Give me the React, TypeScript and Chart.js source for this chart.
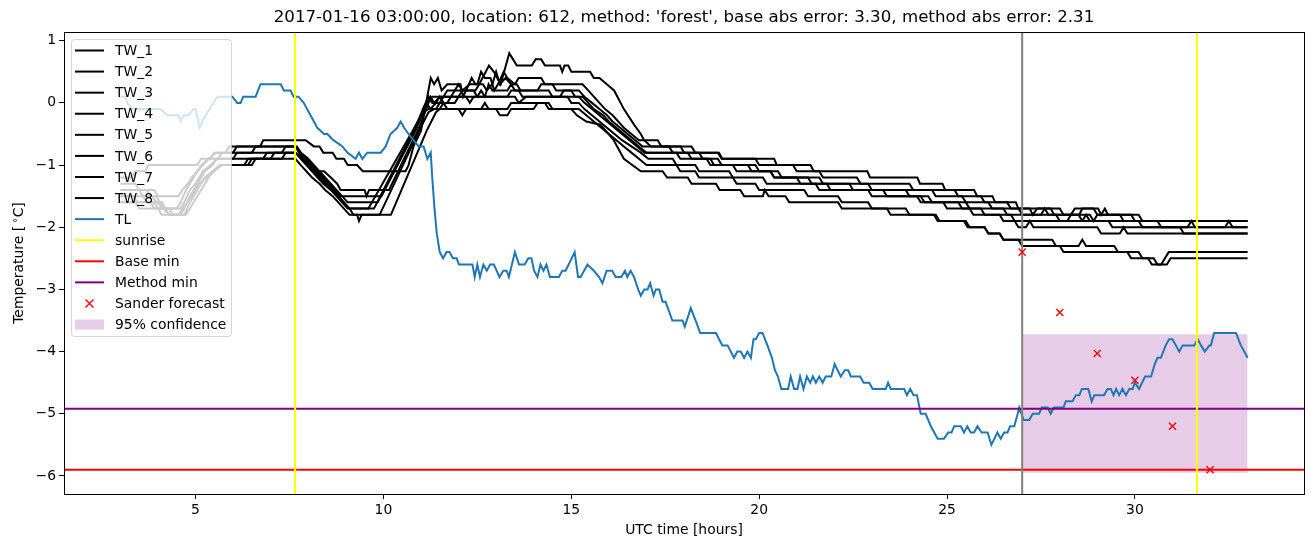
import React, { useEffect, useRef } from "react";
import { Chart, registerables } from "chart.js";

Chart.register(...registerables);

// ---------------- data ----------------
const X_MIN = 1.5;
const X_MAX = 34.5;
const Y_MIN = -6.29;
const Y_MAX = 1.14;
const xTicks = [5, 10, 15, 20, 25, 30];
const yTicks = [-6, -5, -4, -3, -2, -1, 0, 1];

const titleText =
  "2017-01-16 03:00:00, location: 612, method: 'forest', base abs error: 3.30, method abs error: 2.31";
const xLabel = "UTC time [hours]";
const legendLabels = [
  "TW_1", "TW_2", "TW_3", "TW_4", "TW_5", "TW_6", "TW_7", "TW_8",
  "TL", "sunrise", "Base min", "Method min", "Sander forecast", "95% confidence",
];

const sunriseHours = [7.65, 31.65];
const forecastStartHour = 27;
const baseMin = -5.9;
const methodMin = -4.92;
const confHours = [27, 33];
const confUpper = -3.72;
const confLower = -5.95;
const sanderHours = [27, 28, 29, 30, 31, 32];
const sanderValues = [-2.4, -3.37, -4.03, -4.46, -5.2, -5.9];

const tlHours = [
  3.0, 3.14, 3.18, 3.31, 4.07, 4.25, 4.55, 4.6, 4.69, 4.81, 4.95, 5.0, 5.11, 5.18, 5.27, 5.58, 5.98, 6.11, 6.2, 6.27,
  6.6, 6.73, 7.27, 7.35, 7.53, 7.61, 7.74, 7.88, 7.97, 8.06, 8.24, 8.42, 8.51, 8.67, 8.91, 9.04, 9.26, 9.35, 9.44, 9.57,
  9.93, 10.06, 10.19, 10.37, 10.46, 10.55, 10.67, 10.8, 10.94, 11.07, 11.17, 11.26, 11.3, 11.36, 11.42, 11.5, 11.59, 11.68, 11.76, 11.85,
  11.95, 12.01, 12.37, 12.43, 12.5, 12.57, 12.66, 12.75, 12.84, 12.94, 13.09, 13.19, 13.28, 13.34, 13.5, 13.61, 13.76, 13.86, 13.94, 14.01,
  14.1, 14.18, 14.26, 14.34, 14.43, 14.67, 14.76, 14.85, 15.09, 15.18, 15.25, 15.43, 15.6, 15.74, 15.83, 15.94, 16.09, 16.18, 16.33, 16.43,
  16.49, 16.58, 16.67, 16.78, 16.85, 16.94, 17.03, 17.1, 17.19, 17.25, 17.34, 17.43, 17.51, 17.69, 17.96, 18.02, 18.18, 18.31, 18.43, 18.85,
  19.02, 19.16, 19.33, 19.42, 19.51, 19.6, 19.69, 19.78, 19.85, 19.91, 20.0, 20.09, 20.22, 20.34, 20.42, 20.5, 20.59, 20.77, 20.84, 20.93,
  21.02, 21.09, 21.18, 21.27, 21.36, 21.43, 21.51, 21.6, 21.69, 21.77, 21.92, 22.01, 22.17, 22.28, 22.37, 22.44, 22.69, 22.78, 22.93, 23.02,
  23.37, 23.43, 23.5, 23.86, 23.93, 24.02, 24.11, 24.2, 24.3, 24.43, 24.57, 24.75, 24.92, 25.03, 25.12, 25.19, 25.37, 25.45, 25.54, 25.63,
  25.72, 25.81, 25.92, 26.08, 26.18, 26.34, 26.43, 26.52, 26.61, 26.68, 26.79, 26.88, 26.92, 27.04, 27.19, 27.28, 27.45, 27.52, 27.68, 27.76,
  27.84, 28.1, 28.16, 28.34, 28.43, 28.52, 28.59, 28.76, 28.85, 28.92, 29.18, 29.27, 29.36, 29.43, 29.5, 29.58, 29.67, 29.76, 29.85, 29.94,
  30.0, 30.11, 30.27, 30.43, 30.53, 30.6, 30.69, 30.82, 30.91, 31.0, 31.09, 31.18, 31.27, 31.58, 31.67, 31.76, 31.86, 31.98, 32.02, 32.11,
  32.69, 32.82, 33.0,
];
const tlValues = [
  0.1, 0.1, 0.0, -0.1, -0.1, -0.2, -0.2, -0.3, -0.2, -0.2, -0.1, -0.1, -0.4, -0.3, -0.2, 0.1, 0.1, 0.0, 0.0, 0.1,
  0.1, 0.3, 0.3, 0.2, 0.2, 0.1, 0.1, 0.0, -0.1, -0.2, -0.4, -0.5, -0.5, -0.6, -0.7, -0.8, -0.9, -0.8, -0.9, -0.8,
  -0.8, -0.7, -0.5, -0.4, -0.3, -0.4, -0.5, -0.6, -0.7, -0.7, -0.9, -0.8, -1.2, -1.7, -2.1, -2.4, -2.5, -2.4, -2.4, -2.5,
  -2.5, -2.6, -2.6, -2.8, -2.6, -2.8, -2.6, -2.7, -2.6, -2.6, -2.8, -2.7, -2.7, -2.8, -2.4, -2.6, -2.6, -2.5, -2.5, -2.7,
  -2.8, -2.6, -2.7, -2.6, -2.8, -2.8, -2.7, -2.7, -2.4, -2.8, -2.8, -2.6, -2.7, -2.8, -2.9, -2.7, -2.7, -2.8, -2.8, -2.7,
  -2.8, -2.7, -2.8, -3.0, -3.1, -3.0, -3.0, -2.9, -3.1, -3.0, -3.0, -3.2, -3.2, -3.5, -3.5, -3.6, -3.3, -3.5, -3.7, -3.7,
  -3.9, -3.9, -4.1, -4.0, -4.0, -4.1, -4.0, -4.1, -3.8, -3.8, -3.7, -3.7, -3.9, -4.1, -4.3, -4.4, -4.6, -4.6, -4.4, -4.6,
  -4.6, -4.4, -4.6, -4.4, -4.5, -4.4, -4.5, -4.4, -4.5, -4.4, -4.4, -4.2, -4.4, -4.3, -4.3, -4.4, -4.4, -4.5, -4.5, -4.6,
  -4.6, -4.5, -4.6, -4.6, -4.7, -4.6, -4.7, -4.7, -5.0, -5.0, -5.2, -5.4, -5.4, -5.3, -5.3, -5.2, -5.2, -5.3, -5.2, -5.3,
  -5.3, -5.2, -5.3, -5.3, -5.5, -5.3, -5.4, -5.3, -5.3, -5.2, -5.2, -5.0, -4.9, -5.1, -5.1, -5.0, -5.0, -4.9, -4.9, -5.0,
  -4.9, -4.9, -4.8, -4.8, -4.7, -4.7, -4.6, -4.6, -4.8, -4.7, -4.7, -4.6, -4.6, -4.7, -4.6, -4.7, -4.6, -4.7, -4.6, -4.6,
  -4.5, -4.6, -4.4, -4.4, -4.2, -4.1, -4.1, -3.9, -3.8, -3.8, -3.9, -4.0, -3.9, -3.9, -3.8, -3.9, -4.0, -3.9, -3.9, -3.7,
  -3.7, -3.9, -4.1,
];

// TW series: [hour, value] vertices
const TW1 = [
  [3.0, -1.2], [3.3, -1.2], [3.4, -1.1], [3.65, -1.1], [3.75, -1.0], [5.04, -1.0], [5.15, -0.9], [5.4, -0.9], [5.5, -0.8], [5.8, -0.8],
  [5.9, -0.7], [6.72, -0.7], [6.8, -0.6], [7.93, -0.6], [8.15, -0.7], [8.3, -0.7], [8.4, -0.8], [8.65, -0.8], [8.75, -0.9], [8.95, -0.9],
  [9.05, -1.0], [9.3, -1.0], [9.45, -1.1], [10.59, -1.1], [10.67, -1.0], [10.8, -0.7], [11.0, -0.45], [11.26, 0.4], [11.35, 0.3], [11.45, 0.4],
  [11.55, 0.2], [11.7, 0.3], [12.05, 0.3], [12.12, 0.1], [12.2, 0.2], [12.45, 0.2], [12.55, 0.3], [12.81, 0.6], [12.94, 0.5], [13.12, 0.3],
  [13.35, 0.8], [13.45, 0.7], [13.55, 0.6], [13.95, 0.6], [14.05, 0.7], [14.2, 0.7], [14.3, 0.6], [14.7, 0.6], [14.76, 0.5], [14.82, 0.6],
  [14.92, 0.6], [15.0, 0.5], [15.5, 0.5], [15.6, 0.4], [15.75, 0.4], [16.14, 0.2], [16.4, -0.1], [16.67, -0.35], [16.85, -0.5], [16.94, -0.6],
  [17.12, -0.7], [17.91, -0.7], [18.0, -0.8], [18.93, -0.8], [19.02, -0.9], [20.4, -0.9], [20.47, -1.0], [21.37, -1.0], [21.45, -1.1], [22.88, -1.1],
  [22.95, -1.2], [24.21, -1.2], [24.28, -1.3], [24.88, -1.3], [24.95, -1.4], [25.72, -1.4], [25.8, -1.5], [26.21, -1.5], [26.28, -1.6], [26.83, -1.6],
  [26.9, -1.7], [27.76, -1.7], [27.85, -1.8], [28.52, -1.8], [28.6, -1.7], [29.02, -1.7], [29.1, -1.8], [29.2, -1.7], [29.28, -1.8], [30.1, -1.8],
  [30.2, -1.9], [33.0, -1.9],
];
const TW2 = [
  [3.0, -1.3], [3.4, -1.3], [3.5, -1.4], [3.9, -1.4], [4.0, -1.5], [4.55, -1.5], [4.65, -1.4], [4.8, -1.3], [4.9, -1.2], [5.05, -1.1],
  [5.2, -1.0], [5.35, -0.9], [5.55, -0.8], [6.0, -0.8], [6.1, -0.7], [7.7, -0.7], [7.8, -0.8], [7.97, -0.9], [8.15, -1.1], [8.42, -1.1],
  [8.6, -1.2], [8.77, -1.3], [8.86, -1.4], [9.5, -1.4], [9.55, -1.5], [9.62, -1.4], [10.15, -1.4], [10.95, -0.4], [11.2, 0.0], [11.3, 0.1],
  [11.6, 0.1], [11.7, 0.2], [11.9, 0.2], [12.0, 0.3], [12.1, 0.2], [12.3, 0.3], [12.5, 0.3], [12.6, 0.5], [12.7, 0.4], [12.85, 0.4],
  [12.95, 0.2], [13.05, 0.3], [13.2, 0.5], [13.3, 0.4], [13.5, 0.3], [13.6, 0.4], [14.2, 0.4], [14.3, 0.3], [15.3, 0.3], [15.45, 0.2],
  [15.6, 0.1], [15.75, 0.0], [15.9, -0.1], [16.1, -0.2], [16.25, -0.3], [16.4, -0.4], [16.6, -0.5], [16.8, -0.6], [17.3, -0.6], [17.4, -0.7],
  [18.2, -0.7], [18.3, -0.8], [18.9, -0.8], [19.0, -0.9], [19.9, -0.9], [20.0, -1.0], [20.9, -1.0], [21.0, -1.1], [21.6, -1.1], [21.7, -1.2],
  [22.6, -1.2], [22.7, -1.3], [24.0, -1.3], [24.1, -1.4], [25.2, -1.4], [25.3, -1.5], [25.9, -1.5], [26.0, -1.6], [26.6, -1.6], [26.7, -1.7],
  [27.2, -1.7], [27.28, -1.8], [27.4, -1.7], [28.0, -1.7], [28.1, -1.8], [28.3, -1.8], [28.4, -1.7], [28.9, -1.7], [29.0, -1.8], [29.9, -1.8],
  [30.0, -1.9], [33.0, -1.9],
];
const TW3 = [
  [3.0, -1.4], [3.5, -1.4], [3.6, -1.5], [3.85, -1.5], [3.95, -1.6], [4.1, -1.6], [4.2, -1.7], [4.5, -1.7], [4.6, -1.6], [4.75, -1.4],
  [4.95, -1.2], [5.15, -1.0], [5.35, -0.9], [5.6, -0.9], [5.7, -0.8], [6.5, -0.8], [6.6, -0.7], [7.66, -0.7], [7.75, -0.8], [7.95, -0.9],
  [8.1, -1.0], [8.25, -1.1], [8.4, -1.2], [8.55, -1.3], [8.7, -1.4], [8.85, -1.5], [9.95, -1.5], [10.85, -0.45], [11.1, -0.1], [11.25, 0.1],
  [11.35, 0.0], [11.5, 0.1], [11.8, 0.1], [11.9, 0.2], [12.2, 0.2], [12.35, 0.4], [12.45, 0.3], [12.65, 0.3], [12.75, 0.2], [12.9, 0.3],
  [13.0, 0.5], [13.1, 0.3], [13.25, 0.4], [13.4, 0.3], [13.55, 0.3], [13.65, 0.2], [14.1, 0.2], [14.2, 0.3], [14.5, 0.3], [14.6, 0.2],
  [15.2, 0.2], [15.35, 0.1], [15.55, 0.0], [15.75, -0.1], [15.95, -0.2], [16.1, -0.3], [16.3, -0.4], [16.5, -0.5], [16.7, -0.6], [16.9, -0.7],
  [17.6, -0.7], [17.7, -0.8], [18.4, -0.8], [18.5, -0.9], [18.9, -0.9], [19.0, -1.0], [19.7, -1.0], [19.8, -1.1], [20.3, -1.1], [20.4, -1.2],
  [21.6, -1.2], [21.7, -1.3], [22.9, -1.3], [23.0, -1.4], [24.6, -1.4], [24.7, -1.5], [25.4, -1.5], [25.5, -1.6], [26.1, -1.6], [26.2, -1.7],
  [26.9, -1.7], [27.0, -1.8], [27.5, -1.8], [27.6, -1.7], [27.7, -1.8], [28.8, -1.8], [28.9, -1.9], [29.0, -1.8], [29.6, -1.8], [29.7, -1.9],
  [30.6, -1.9], [30.7, -2.0], [31.4, -2.0], [31.5, -1.9], [31.6, -2.0], [33.0, -2.0],
];
const TW4 = [
  [3.0, -1.4], [3.7, -1.4], [3.8, -1.5], [3.95, -1.5], [4.05, -1.6], [4.15, -1.7], [4.3, -1.8], [4.6, -1.8], [4.7, -1.7], [4.85, -1.5],
  [5.05, -1.3], [5.25, -1.1], [5.45, -1.0], [5.55, -0.9], [6.0, -0.9], [6.1, -0.8], [7.3, -0.8], [7.4, -0.7], [7.66, -0.7], [7.8, -0.8],
  [8.0, -0.9], [8.15, -1.0], [8.3, -1.1], [8.45, -1.2], [8.6, -1.3], [8.75, -1.4], [8.9, -1.5], [9.05, -1.6], [9.85, -1.6], [10.82, -0.45],
  [11.05, -0.1], [11.2, 0.1], [11.3, 0.0], [11.5, 0.0], [11.6, 0.1], [12.0, 0.1], [12.1, 0.2], [12.4, 0.2], [12.5, 0.1], [12.7, 0.1],
  [12.8, 0.3], [12.9, 0.2], [13.3, 0.2], [13.4, 0.3], [13.5, 0.2], [14.4, 0.2], [14.5, 0.1], [14.7, 0.1], [14.8, 0.2], [15.0, 0.2],
  [15.1, 0.1], [15.3, 0.1], [15.45, 0.0], [15.6, -0.1], [15.85, -0.2], [16.0, -0.3], [16.2, -0.4], [16.4, -0.5], [16.6, -0.6], [16.8, -0.7],
  [17.0, -0.8], [18.1, -0.8], [18.2, -0.9], [18.7, -0.9], [18.8, -1.0], [19.9, -1.0], [20.0, -1.1], [20.5, -1.1], [20.6, -1.2], [21.3, -1.2],
  [21.4, -1.3], [22.4, -1.3], [22.5, -1.4], [23.9, -1.4], [24.0, -1.5], [24.2, -1.5], [24.3, -1.6], [25.5, -1.6], [25.6, -1.7], [26.5, -1.7],
  [26.6, -1.8], [27.9, -1.8], [28.0, -1.9], [28.6, -1.9], [28.7, -1.8], [28.8, -1.9], [30.1, -1.9], [30.2, -2.0], [32.4, -2.0], [32.5, -1.9],
  [32.6, -2.0], [33.0, -2.0],
];
const TW5 = [
  [3.0, -1.5], [3.6, -1.5], [3.7, -1.6], [4.0, -1.6], [4.1, -1.7], [4.3, -1.7], [4.4, -1.8], [4.7, -1.8], [4.85, -1.6], [5.05, -1.4],
  [5.25, -1.2], [5.45, -1.1], [5.65, -1.0], [6.4, -1.0], [6.5, -0.9], [7.0, -0.9], [7.1, -0.8], [7.66, -0.8], [7.85, -0.9], [8.0, -1.0],
  [8.15, -1.1], [8.3, -1.2], [8.45, -1.3], [8.6, -1.4], [8.75, -1.5], [8.9, -1.6], [9.05, -1.7], [9.75, -1.7], [10.8, -0.45], [11.0, -0.2],
  [11.15, 0.0], [11.25, -0.1], [11.4, 0.0], [11.5, 0.1], [11.6, 0.0], [11.9, 0.0], [12.0, 0.1], [12.5, 0.1], [12.6, 0.2], [12.7, 0.1],
  [13.3, 0.1], [13.4, 0.2], [13.6, 0.2], [13.7, 0.1], [15.2, 0.1], [15.35, 0.0], [15.55, -0.1], [15.75, -0.2], [15.95, -0.3], [16.15, -0.4],
  [16.35, -0.5], [16.55, -0.6], [16.75, -0.7], [16.95, -0.8], [17.8, -0.8], [17.9, -0.9], [18.6, -0.9], [18.7, -1.0], [19.3, -1.0], [19.4, -1.1],
  [20.3, -1.1], [20.4, -1.2], [21.0, -1.2], [21.1, -1.3], [21.5, -1.3], [21.6, -1.4], [22.9, -1.4], [23.0, -1.5], [24.5, -1.5], [24.6, -1.6],
  [25.3, -1.6], [25.4, -1.7], [25.9, -1.7], [26.0, -1.8], [26.7, -1.8], [26.8, -1.9], [28.2, -1.9], [28.3, -1.8], [28.5, -1.8], [28.6, -1.9],
  [29.3, -1.9], [29.4, -2.0], [31.2, -2.0], [31.3, -2.1], [33.0, -2.1],
];
const TW6 = [
  [3.0, -1.5], [3.35, -1.5], [3.45, -1.6], [3.9, -1.6], [4.0, -1.7], [4.6, -1.7], [4.7, -1.6], [4.85, -1.4], [5.0, -1.3], [5.2, -1.1],
  [5.4, -1.0], [5.6, -0.9], [6.8, -0.9], [6.9, -0.8], [7.66, -0.8], [7.8, -0.9], [7.95, -1.0], [8.1, -1.1], [8.25, -1.2], [8.4, -1.3],
  [8.6, -1.4], [8.8, -1.5], [8.95, -1.6], [9.1, -1.7], [9.6, -1.7], [10.78, -0.45], [11.05, -0.15], [11.2, -0.1], [11.4, -0.1], [11.5, 0.0],
  [11.7, 0.0], [11.8, 0.1], [12.2, 0.1], [12.3, 0.0], [12.4, 0.1], [13.5, 0.1], [13.6, 0.0], [13.8, 0.1], [14.9, 0.1], [15.0, 0.0],
  [15.2, 0.0], [15.35, -0.1], [15.55, -0.2], [15.75, -0.3], [15.95, -0.4], [16.15, -0.5], [16.35, -0.6], [16.6, -0.7], [16.85, -0.8], [17.05, -0.9],
  [17.7, -0.9], [17.8, -1.0], [18.3, -1.0], [18.4, -1.1], [19.2, -1.1], [19.3, -1.2], [20.1, -1.2], [20.2, -1.3], [21.8, -1.3], [21.9, -1.4],
  [23.3, -1.4], [23.4, -1.5], [24.3, -1.5], [24.4, -1.6], [24.9, -1.6], [25.0, -1.7], [25.6, -1.7], [25.7, -1.8], [26.4, -1.8], [26.5, -1.9],
  [26.8, -1.9], [26.9, -2.0], [27.1, -2.0], [27.2, -1.9], [27.3, -2.0], [29.0, -2.0], [29.1, -2.1], [29.6, -2.1], [29.7, -2.0], [29.8, -2.1],
  [33.0, -2.1],
];
const TW7 = [
  [3.0, -1.6], [3.4, -1.6], [3.5, -1.7], [4.0, -1.7], [4.1, -1.8], [4.55, -1.8], [4.65, -1.7], [4.9, -1.5], [5.1, -1.3], [5.3, -1.2],
  [5.5, -1.1], [5.7, -1.0], [6.5, -1.0], [6.6, -0.9], [7.3, -0.9], [7.4, -0.8], [7.66, -0.8], [7.9, -0.9], [8.05, -1.0], [8.2, -1.1],
  [8.35, -1.2], [8.5, -1.3], [8.65, -1.4], [8.8, -1.5], [8.95, -1.6], [9.1, -1.7], [9.2, -1.8], [9.9, -1.8], [10.95, -0.45], [11.2, -0.15],
  [11.35, -0.1], [11.5, -0.1], [11.6, 0.0], [11.7, -0.1], [12.6, -0.1], [12.7, 0.0], [12.8, -0.1], [13.3, -0.1], [13.4, 0.0], [14.4, 0.0],
  [14.5, -0.1], [15.2, -0.1], [15.4, -0.2], [15.6, -0.3], [15.8, -0.4], [16.0, -0.5], [16.2, -0.6], [16.4, -0.7], [16.6, -0.8], [16.8, -0.9],
  [17.0, -1.0], [17.8, -1.0], [17.9, -1.1], [18.3, -1.1], [18.4, -1.2], [19.3, -1.2], [19.4, -1.3], [19.9, -1.3], [20.0, -1.4], [21.2, -1.4],
  [21.3, -1.5], [22.1, -1.5], [22.2, -1.6], [22.9, -1.6], [23.0, -1.7], [23.9, -1.7], [24.0, -1.8], [24.7, -1.8], [24.8, -1.9], [25.5, -1.9],
  [25.6, -2.0], [26.0, -2.0], [26.1, -2.1], [26.4, -2.1], [26.5, -2.2], [27.8, -2.2], [27.9, -2.3], [28.5, -2.3], [28.6, -2.2], [28.7, -2.3],
  [29.45, -2.3], [29.55, -2.4], [30.1, -2.4], [30.2, -2.5], [30.5, -2.5], [30.6, -2.6], [30.7, -2.6], [30.8, -2.5], [30.9, -2.4], [33.0, -2.4],
];
const TW8 = [
  [3.0, -1.6], [3.8, -1.6], [3.9, -1.7], [4.2, -1.7], [4.3, -1.8], [4.75, -1.8], [4.85, -1.7], [5.05, -1.5], [5.25, -1.3], [5.45, -1.1],
  [5.7, -1.0], [6.3, -1.0], [6.4, -0.9], [7.66, -0.9], [7.8, -1.0], [7.95, -1.1], [8.1, -1.2], [8.3, -1.3], [8.45, -1.4], [8.65, -1.5],
  [8.8, -1.6], [8.95, -1.7], [9.1, -1.8], [9.3, -1.8], [9.35, -1.9], [9.42, -1.8], [10.2, -1.8], [11.15, -0.45], [11.4, -0.15], [11.5, -0.1],
  [12.0, -0.1], [12.1, -0.2], [12.2, -0.1], [13.0, -0.1], [13.1, -0.2], [13.3, -0.2], [13.4, -0.1], [14.0, -0.1], [14.1, 0.0], [14.3, 0.0],
  [14.4, -0.1], [15.0, -0.1], [15.15, -0.2], [15.4, -0.3], [15.78, -0.35], [16.13, -0.6], [16.4, -0.9], [16.85, -1.1], [17.43, -1.1], [17.55, -1.2],
  [18.1, -1.2], [18.2, -1.3], [18.85, -1.3], [18.95, -1.4], [19.5, -1.4], [19.6, -1.5], [20.1, -1.5], [20.15, -1.4], [20.25, -1.5], [20.7, -1.5],
  [20.8, -1.6], [22.1, -1.6], [22.2, -1.7], [23.4, -1.7], [23.5, -1.8], [24.65, -1.8], [24.75, -1.9], [25.45, -1.9], [25.55, -2.0], [26.0, -2.0],
  [26.1, -2.1], [26.4, -2.1], [26.5, -2.2], [26.9, -2.2], [27.0, -2.3], [28.0, -2.3], [28.1, -2.4], [29.8, -2.4], [29.9, -2.5], [30.35, -2.5],
  [30.45, -2.6], [30.85, -2.6], [30.95, -2.5], [33.0, -2.5],
];
const twSeries = [TW1, TW2, TW3, TW4, TW5, TW6, TW7, TW8];

// ---------------- styling ----------------
const FONT = '"DejaVu Sans", "Liberation Sans", sans-serif';
const FS = 13.9;
const C_TL = "#1f77b4";
const C_SUN = "#ffff00";
const C_BASE = "#ff0000";
const C_METHOD = "#800080";
const C_CONF = "rgba(128,0,128,0.2)";
const C_GRAY = "#808080";

const fmtTick = (v: number) => String(v).replace("-", "\u2212");

const legendStyle = (label: string) => {
  if (label.startsWith("TW_")) return { kind: "line", color: "#000" };
  if (label === "TL") return { kind: "line", color: C_TL };
  if (label === "sunrise") return { kind: "line", color: C_SUN };
  if (label === "Base min") return { kind: "line", color: C_BASE };
  if (label === "Method min") return { kind: "line", color: C_METHOD };
  if (label === "Sander forecast") return { kind: "x", color: C_BASE };
  return { kind: "patch", color: C_CONF };
};

const decorPlugin = {
  id: "decor",
  afterDraw(chart: any) {
    const ctx: CanvasRenderingContext2D = chart.ctx;
    const a = chart.chartArea;
    ctx.save();
    // spines
    ctx.strokeStyle = "#000";
    ctx.lineWidth = 1;
    ctx.strokeRect(Math.round(a.left) + 0.5, Math.round(a.top) + 0.5, Math.round(a.right - a.left), Math.round(a.bottom - a.top));

    // title
    const cx = (a.left + a.right) / 2;
    ctx.fillStyle = "#000";
    ctx.font = `16.67px ${FONT}`;
    ctx.textAlign = "center";
    ctx.textBaseline = "alphabetic";
    ctx.fillText(titleText, cx, 22);

    // x label
    ctx.font = `${FS}px ${FONT}`;
    ctx.fillText(xLabel, cx, 534);

    // y label with superscript degree
    const cy = (a.top + a.bottom) / 2;
    ctx.save();
    ctx.translate(23, cy);
    ctx.rotate(-Math.PI / 2);
    ctx.textAlign = "left";
    const p1 = "Temperature [";
    const p3 = "C]";
    ctx.font = `${FS}px ${FONT}`;
    const w1 = ctx.measureText(p1).width;
    const w3 = ctx.measureText(p3).width;
    ctx.font = `${FS * 0.7}px ${FONT}`;
    const w2 = ctx.measureText("\u2218").width;
    const gap = 2.5;
    const total = w1 + gap + w2 + w3;
    let x = -total / 2;
    ctx.font = `${FS}px ${FONT}`;
    ctx.fillText(p1, x, 0);
    x += w1 + gap;
    ctx.font = `${FS * 0.7}px ${FONT}`;
    ctx.fillText("\u2218", x, -5);
    x += w2;
    ctx.font = `${FS}px ${FONT}`;
    ctx.fillText(p3, x, 0);
    ctx.restore();

    // legend
    const lx = 71.5, ly = 39.5, lw = 160, lh = 297, r = 3;
    ctx.beginPath();
    ctx.moveTo(lx + r, ly);
    ctx.lineTo(lx + lw - r, ly);
    ctx.arcTo(lx + lw, ly, lx + lw, ly + r, r);
    ctx.lineTo(lx + lw, ly + lh - r);
    ctx.arcTo(lx + lw, ly + lh, lx + lw - r, ly + lh, r);
    ctx.lineTo(lx + r, ly + lh);
    ctx.arcTo(lx, ly + lh, lx, ly + lh - r, r);
    ctx.lineTo(lx, ly + r);
    ctx.arcTo(lx, ly, lx + r, ly, r);
    ctx.closePath();
    ctx.fillStyle = "rgba(255,255,255,0.8)";
    ctx.fill();
    ctx.strokeStyle = "rgba(204,204,204,0.8)";
    ctx.lineWidth = 1;
    ctx.stroke();

    ctx.font = `${FS}px ${FONT}`;
    ctx.textAlign = "left";
    ctx.textBaseline = "middle";
    legendLabels.forEach((label, i) => {
      const y = 50.5 + i * 21.08;
      const st = legendStyle(label);
      if (st.kind === "line") {
        ctx.strokeStyle = st.color;
        ctx.lineWidth = 2;
        ctx.beginPath();
        ctx.moveTo(75, y);
        ctx.lineTo(104, y);
        ctx.stroke();
      } else if (st.kind === "x") {
        ctx.strokeStyle = st.color;
        ctx.lineWidth = 1.4;
        const s = 4;
        ctx.beginPath();
        ctx.moveTo(89.5 - s, y - s);
        ctx.lineTo(89.5 + s, y + s);
        ctx.moveTo(89.5 - s, y + s);
        ctx.lineTo(89.5 + s, y - s);
        ctx.stroke();
      } else {
        ctx.fillStyle = st.color;
        ctx.fillRect(75, y - 5, 29, 10);
      }
      ctx.fillStyle = "#000";
      ctx.fillText(label, 115, y + 1);
    });
    ctx.restore();
  },
};

function buildConfig(): any {
  const line = (data: any[], color: string, order: number, width = 2) => ({
    data,
    borderColor: color,
    backgroundColor: color,
    borderWidth: width,
    pointRadius: 0,
    fill: false,
    tension: 0,
    order,
  });

  const datasets: any[] = [];
  // Sander forecast markers (top)
  datasets.push({
    data: sanderHours.map((h, i) => ({ x: h, y: sanderValues[i] })),
    showLine: false,
    pointStyle: "crossRot",
    pointRadius: 5,
    borderColor: C_BASE,
    backgroundColor: C_BASE,
    pointBorderWidth: 1.4,
    order: 0,
  });
  datasets.push(
    line([{ x: forecastStartHour, y: Y_MIN }, { x: forecastStartHour, y: Y_MAX }], C_GRAY, 1)
  );
  sunriseHours.forEach((h) => datasets.push(line([{ x: h, y: Y_MIN }, { x: h, y: Y_MAX }], C_SUN, 2)));
  datasets.push(line([{ x: X_MIN, y: methodMin }, { x: X_MAX, y: methodMin }], C_METHOD, 3));
  datasets.push(line([{ x: X_MIN, y: baseMin }, { x: X_MAX, y: baseMin }], C_BASE, 3));
  datasets.push(line(tlHours.map((h, i) => ({ x: h, y: tlValues[i] })), C_TL, 5));
  twSeries.forEach((s) => datasets.push(line(s.map(([x, y]) => ({ x, y })), "#000", 6)));
  // confidence band
  datasets.push({
    data: confHours.map((h) => ({ x: h, y: confUpper })),
    borderWidth: 0,
    borderColor: "rgba(0,0,0,0)",
    backgroundColor: C_CONF,
    pointRadius: 0,
    fill: { value: confLower },
    tension: 0,
    order: 10,
  });

  return {
    type: "line",
    data: { datasets },
    options: {
      responsive: false,
      maintainAspectRatio: false,
      devicePixelRatio: 1,
      animation: false,
      events: [],
      layout: { padding: { top: 32, right: 9, left: 0, bottom: 0 } },
      plugins: { legend: { display: false }, tooltip: { enabled: false }, title: { display: false } },
      scales: {
        x: {
          type: "linear",
          min: X_MIN,
          max: X_MAX,
          afterBuildTicks: (scale: any) => {
            scale.ticks = xTicks.map((value) => ({ value }));
          },
          afterFit: (scale: any) => {
            scale.height = 53;
          },
          grid: { display: true, drawOnChartArea: false, drawTicks: true, tickLength: 5, color: "#000", lineWidth: 1 },
          border: { display: false },
          ticks: {
            color: "#000",
            padding: 3,
            maxRotation: 0,
            autoSkip: false,
            font: { family: FONT, size: FS },
            callback: (v: any) => fmtTick(v),
          },
        },
        y: {
          type: "linear",
          min: Y_MIN,
          max: Y_MAX,
          afterBuildTicks: (scale: any) => {
            scale.ticks = yTicks.map((value) => ({ value }));
          },
          afterFit: (scale: any) => {
            scale.width = 64;
          },
          grid: { display: true, drawOnChartArea: false, drawTicks: true, tickLength: 5, color: "#000", lineWidth: 1 },
          border: { display: false },
          ticks: {
            color: "#000",
            padding: 3,
            autoSkip: false,
            font: { family: FONT, size: FS },
            callback: (v: any) => fmtTick(v),
          },
        },
      },
    },
    plugins: [decorPlugin],
  };
}

export default function App() {
  const ref = useRef<HTMLCanvasElement>(null);
  useEffect(() => {
    const canvas = ref.current;
    if (!canvas) return;
    const chart = new Chart(canvas, buildConfig());
    return () => chart.destroy();
  }, []);
  return (
    <div style={{ position: "fixed", left: 0, top: 0, width: 1313, height: 547, background: "#fff" }}>
      <canvas ref={ref} width={1313} height={547} style={{ width: 1313, height: 547, display: "block" }} />
    </div>
  );
}
